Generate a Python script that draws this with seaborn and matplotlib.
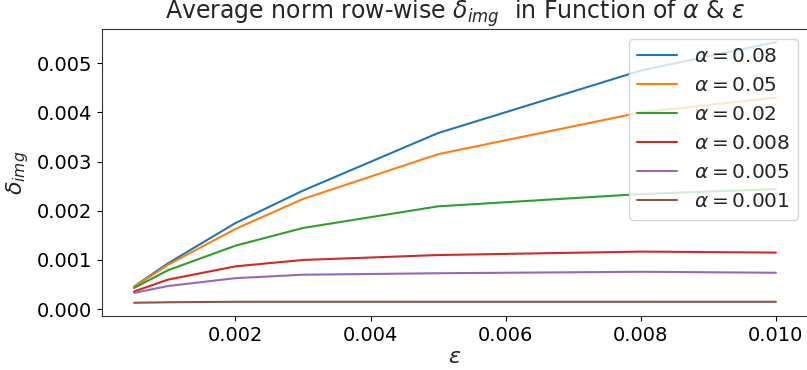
import numpy as np
import pandas as pd
import matplotlib
matplotlib.use("Agg")
import matplotlib.pyplot as plt
import seaborn as sns

epsilons = [0.0005, 0.001, 0.002, 0.003, 0.005, 0.008, 0.010]
alpha_labels = ["0.08", "0.05", "0.02", "0.008", "0.005", "0.001"]
d_008 = [0.00046, 0.00093, 0.00175, 0.00241, 0.00358, 0.00485, 0.00543]
d_005 = [0.00045, 0.00090, 0.00163, 0.00224, 0.00315, 0.00400, 0.00430]
d_002 = [0.00043, 0.00079, 0.00129, 0.00165, 0.00209, 0.00234, 0.00244]
d_0008 = [0.00036, 0.00060, 0.00087, 0.00100, 0.00110, 0.00117, 0.00115]
d_0005 = [0.00033, 0.00047, 0.00063, 0.00070, 0.00073, 0.00076, 0.00074]
d_0001 = [0.00013, 0.00014, 0.00015, 0.00015, 0.00015, 0.00015, 0.00015]
series = [d_008, d_005, d_002, d_0008, d_0005, d_0001]

rows = []
for lab, vals in zip(alpha_labels, series):
    for e, v in zip(epsilons, vals):
        rows.append({"eps": e, "delta": v, "alpha": r"$\alpha = " + lab + "$"})
df = pd.DataFrame(rows)

sns.set_style("ticks")
plt.rcParams["font.family"] = ["DejaVu Sans"]

fig = plt.figure(figsize=(8.07, 3.70), dpi=100)
ax = fig.add_axes([102 / 807, 54.2 / 370, 706 / 807, 286.8 / 370])
sns.lineplot(data=df, x="eps", y="delta", hue="alpha", palette="tab10",
             ax=ax, linewidth=1.5)

ax.set_xticks([0.002, 0.004, 0.006, 0.008, 0.010])
ax.set_xticklabels(["0.002", "0.004", "0.006", "0.008", "0.010"])
ax.set_yticks([0.0, 0.001, 0.002, 0.003, 0.004, 0.005])
ax.set_yticklabels(["0.000", "0.001", "0.002", "0.003", "0.004", "0.005"])
ax.tick_params(labelsize=14, colors="black", labelcolor="black")
ax.set_xlabel(r"$\epsilon$", fontsize=16, labelpad=2)
ax.set_ylabel(r"$\delta_{img}$", fontsize=16)
ax.set_title(r"Average norm row-wise $\delta_{img}$  in Function of $\alpha$ & $\epsilon$",
             fontsize=17, pad=3)
for s in ax.spines.values():
    s.set_color("#333333")
leg = ax.legend(loc="upper right", fontsize=14.5, title=None)

fig.savefig("out.png", dpi=100)
